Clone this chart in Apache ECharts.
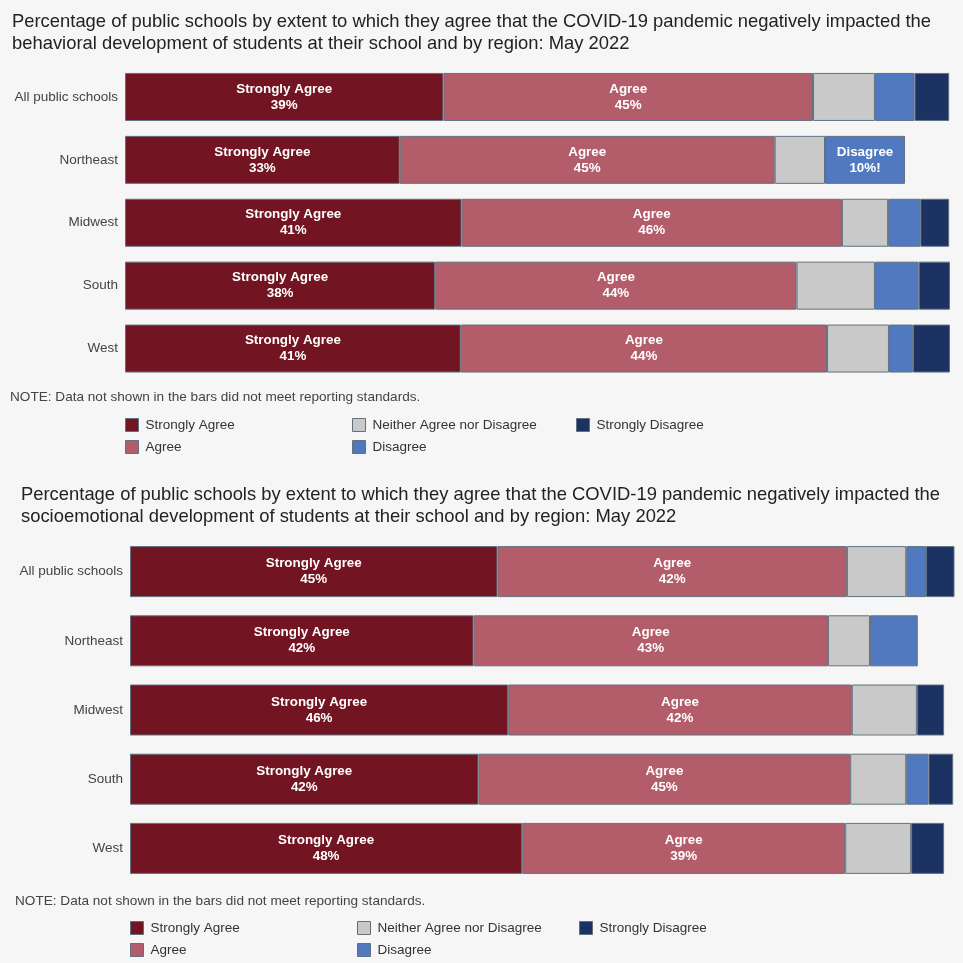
<!DOCTYPE html>
<html>
<head>
<meta charset="utf-8">
<script src="https://cdn.jsdelivr.net/npm/echarts@6/dist/echarts.min.js"></script>
<style>
html,body{margin:0;padding:0;background:#f6f6f6;}
#c{width:963px;height:963px;}
</style>
</head>
<body>
<div id="c"></div>
<script>
// ---- Data ----
const regions = ['All public schools', 'Northeast', 'Midwest', 'South', 'West'];
const seriesNames = ['Strongly Agree', 'Agree', 'Neither Agree nor Disagree', 'Disagree', 'Strongly Disagree'];

// Chart 1: behavioral development
const behStronglyAgree = [38.6, 33.3, 40.8, 37.6, 40.7];
const behAgree         = [44.8, 45.45, 46.1, 43.8, 44.4];
const behNeither       = [7.5, 6.1, 5.6, 9.5, 7.5];
const behDisagree      = [4.8, 9.7, 3.9, 5.3, 2.9];
const behStronglyDis   = [4.2, null, 3.5, 3.8, 4.5];
const behDisagreeLabel = [false, true, false, false, false];
const behDisagreeFlag  = '!';

// Chart 2: socioemotional development
const socStronglyAgree = [44.6, 41.7, 45.9, 42.3, 47.6];
const socAgree         = [42.4, 43.0, 41.7, 45.1, 39.2];
const socNeither       = [7.2, 5.1, 7.9, 6.8, 8.0];
const socDisagree      = [2.4, 5.8, null, 2.7, null];
const socStronglyDis   = [3.6, null, 3.3, 3.0, 4.0];

const titles = [
  'Percentage of public schools by extent to which they agree that the COVID-19 pandemic negatively impacted the\nbehavioral development of students at their school and by region: May 2022',
  'Percentage of public schools by extent to which they agree that the COVID-19 pandemic negatively impacted the\nsocioemotional development of students at their school and by region: May 2022'
];
const noteText = 'NOTE: Data not shown in the bars did not meet reporting standards.';

// ---- Styles ----
const colors = ['#721422', '#b35d6b', '#c9c9c9', '#5079c0', '#1b3263'];
const FONT = '"Liberation Sans", Arial, sans-serif';

function labelFn(name) {
  return function (p) {
    if (p.value == null) return '';
    return '{b|' + name + '}\n{b|' + Math.round(p.value) + '%}';
  };
}

function makeSeries(gridIdx, arrs, disLabelFlags) {
  return arrs.map(function (arr, i) {
    const showDefault = i < 2;
    return {
      name: seriesNames[i],
      type: 'bar',
      stack: 'g' + gridIdx,
      xAxisIndex: gridIdx,
      yAxisIndex: gridIdx,
      barWidth: gridIdx === 0 ? 48 : 51,
      itemStyle: { color: colors[i], borderColor: '#62717f', borderWidth: 1 },
      emphasis: { disabled: true },
      data: arr.map(function (v, j) {
        let show = showDefault;
        let fmt = labelFn(seriesNames[i]);
        if (i === 3 && disLabelFlags && disLabelFlags[j]) {
          show = true;
          fmt = function (p) { return '{b|Disagree}\n{b|' + Math.round(p.value) + '%' + behDisagreeFlag + '}'; };
        }
        return {
          value: v,
          label: {
            show: show && v != null,
            position: 'inside',
            formatter: fmt,
            rich: { b: { color: '#ffffff', fontWeight: 'bold', fontSize: 13.4, fontFamily: FONT, lineHeight: 16 } }
          }
        };
      })
    };
  });
}

function legendBlock(items, left, top) {
  return {
    data: items,
    orient: 'vertical',
    left: left,
    top: top,
    padding: 0,
    itemWidth: 13,
    itemHeight: 13,
    itemGap: 8,
    icon: 'rect',
    selectedMode: false,
    itemStyle: { borderColor: '#62717f', borderWidth: 1 },
    textStyle: { fontSize: 13.5, lineHeight: 14, color: '#333', fontFamily: FONT, padding: [0, 0, 0, 2] }
  };
}

const chart = echarts.init(document.getElementById('c'), null, { renderer: 'canvas' });

const titleStyle = { fontSize: 18.4, fontWeight: 'normal', color: '#222', fontFamily: FONT, lineHeight: 22 };
const noteStyle = { fontSize: 13.6, fontWeight: 'normal', color: '#444', fontFamily: FONT };

const option = {
  backgroundColor: '#f6f6f6',
  animation: false,
  title: [
    { text: titles[0], left: 12, top: 11, padding: 0, textStyle: titleStyle },
    { text: titles[1], left: 21, top: 484, padding: 0, textStyle: titleStyle },
    { text: noteText, left: 10, top: 390, padding: 0, textStyle: noteStyle },
    { text: noteText, left: 15, top: 894, padding: 0, textStyle: noteStyle }
  ],
  legend: [
    legendBlock(['Strongly Agree', 'Agree'], 125, 418),
    legendBlock(['Neither Agree nor Disagree', 'Disagree'], 352, 418),
    legendBlock(['Strongly Disagree'], 576, 418),
    legendBlock(['Strongly Agree', 'Agree'], 130, 921),
    legendBlock(['Neither Agree nor Disagree', 'Disagree'], 357, 921),
    legendBlock(['Strongly Disagree'], 579, 921)
  ],
  grid: [
    { left: 125, right: 13, top: 65.5, height: 314.5 },
    { left: 130, right: 9, top: 537, height: 346 }
  ],
  xAxis: [
    { type: 'value', gridIndex: 0, min: 0, max: 100, show: false },
    { type: 'value', gridIndex: 1, min: 0, max: 100, show: false }
  ],
  yAxis: [0, 1].map(function (g) {
    return {
      type: 'category', gridIndex: g, data: regions, inverse: true,
      axisLine: { show: false }, axisTick: { show: false }, splitLine: { show: false },
      axisLabel: { fontSize: 13.5, color: '#444', fontFamily: FONT, margin: 7 }
    };
  }),
  series: [].concat(
    makeSeries(0, [behStronglyAgree, behAgree, behNeither, behDisagree, behStronglyDis], behDisagreeLabel),
    makeSeries(1, [socStronglyAgree, socAgree, socNeither, socDisagree, socStronglyDis], null)
  )
};
chart.setOption(option);
</script>
</body>
</html>
